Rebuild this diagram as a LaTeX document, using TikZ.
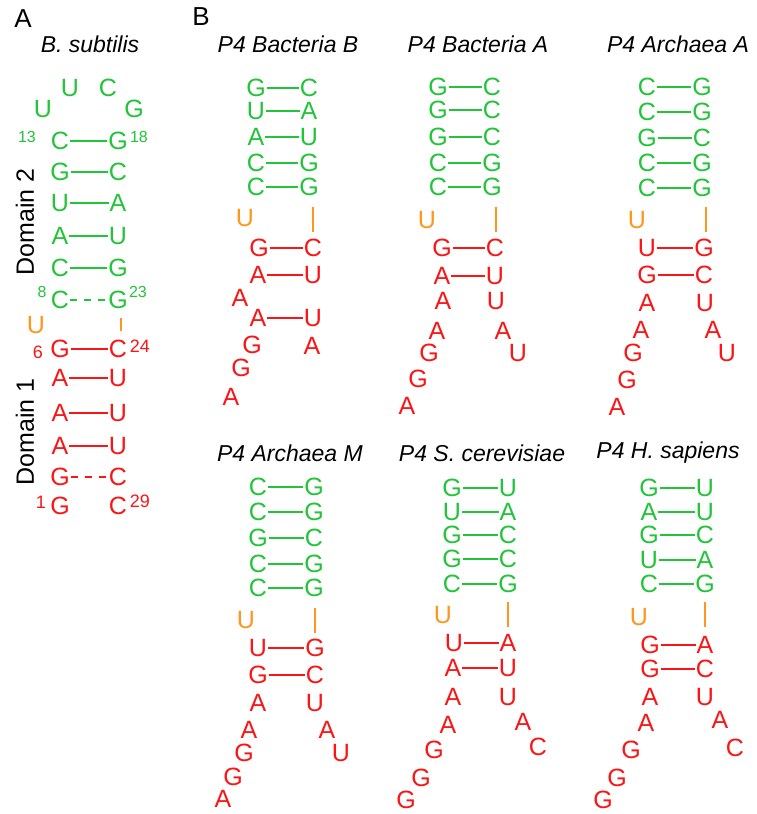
\documentclass[tikz,border=0pt]{standalone}
\usepackage{fontspec}
\setmainfont{Liberation Sans}
\definecolor{cgreen}{RGB}{34,197,58}
\definecolor{cred}{RGB}{250,22,22}
\definecolor{corange}{RGB}{255,150,30}
\newcommand{\nuc}[5]{\node[nuc,#1] (#2) at (#3,#4) {#5};}
\newcommand{\bnd}[3]{\draw[#1] (#2.east) -- (#3.west);}
\tikzset{
  nuc/.style={font=\fontsize{25}{25}\selectfont, inner sep=0.6pt, text height=17.9pt, text depth=0pt, anchor=center},
  gn/.style={text=cgreen},
  rd/.style={text=cred},
  og/.style={text=corange},
  gbA/.style={draw=cgreen, line width=2.2pt},
  rbA/.style={draw=cred, line width=2.2pt},
  gbB/.style={draw=cgreen, line width=1.8pt},
  rbB/.style={draw=cred, line width=1.8pt},
  obB/.style={draw=corange, line width=2pt},
  dsh/.style={dash pattern=on 7pt off 7pt},
  gnum/.style={font=\fontsize{16}{16}\selectfont, text=cgreen, inner sep=0pt},
  rnum/.style={font=\fontsize{18}{18}\selectfont, text=cred, inner sep=0pt},
  ttl/.style={font=\fontsize{23}{23}\selectfont\itshape, text=black, inner sep=0pt},
  panel/.style={font=\fontsize{26}{26}\selectfont, text=black, inner sep=0pt},
  dom/.style={font=\fontsize{25}{25}\selectfont, text=black, inner sep=0pt, rotate=90}
}
\begin{document}
\begin{tikzpicture}[x=1pt,y=-1pt]
\useasboundingbox (0,0) rectangle (756,814);
\fill[white] (0,0) rectangle (756,814);

% ---------- Panel A ----------
\node[panel] (labA) at (23,19) {A};
\node[panel] (labB) at (201,17) {B};
\node[ttl] (tA) at (90,44) {B. subtilis};
\node[dom] (dom2) at (25,222) {Domain 2};
\node[dom] (dom1) at (25,432) {Domain 1};

\nuc{gn}{aq1}{70}{88}{U}
\nuc{gn}{aq2}{108}{88}{C}
\nuc{gn}{aq3}{43}{109}{U}
\nuc{gn}{aq4}{134}{109}{G}

\nuc{gn}{aL1}{60}{141}{C} \nuc{gn}{aR1}{118}{141}{G}
\nuc{gn}{aL2}{60}{172}{G} \nuc{gn}{aR2}{118}{172}{C}
\nuc{gn}{aL3}{60}{203}{U} \nuc{gn}{aR3}{118}{203}{A}
\nuc{gn}{aL4}{60}{236}{A} \nuc{gn}{aR4}{118}{236}{U}
\nuc{gn}{aL5}{60}{268}{C} \nuc{gn}{aR5}{118}{268}{G}
\nuc{gn}{aL6}{60}{300}{C} \nuc{gn}{aR6}{118}{300}{G}
\nuc{og}{aO}{36}{325}{U}
\nuc{rd}{aL7}{60}{349}{G} \nuc{rd}{aR7}{118}{349}{C}
\nuc{rd}{aL8}{60}{378}{A} \nuc{rd}{aR8}{118}{378}{U}
\nuc{rd}{aL9}{60}{413}{A} \nuc{rd}{aR9}{118}{413}{U}
\nuc{rd}{aL10}{60}{446}{A} \nuc{rd}{aR10}{118}{446}{U}
\nuc{rd}{aL11}{60}{477}{G} \nuc{rd}{aR11}{118}{477}{C}
\nuc{rd}{aL12}{60}{506}{G} \nuc{rd}{aR12}{118}{506}{C}

\bnd{gbA}{aL1}{aR1}
\bnd{gbA}{aL2}{aR2}
\bnd{gbA}{aL3}{aR3}
\bnd{gbA}{aL4}{aR4}
\bnd{gbA}{aL5}{aR5}
\bnd{gbA,dsh}{aL6}{aR6}
\bnd{rbA}{aL7}{aR7}
\bnd{rbA}{aL8}{aR8}
\bnd{rbA}{aL9}{aR9}
\bnd{rbA}{aL10}{aR10}
\bnd{rbA,dsh}{aL11}{aR11}
\coordinate (aOt) at (121,318);
\coordinate (aOb) at (121,331);
\draw[obB] (aOt) -- (aOb);

\node[gnum] (n13) at (27,137) {13};
\node[gnum] (n18) at (139,137) {18};
\node[gnum] (n8) at (42,292) {8};
\node[gnum] (n23) at (138,292) {23};
\node[rnum] (n6) at (38,352) {6};
\node[rnum] (n24) at (140,346) {24};
\node[rnum] (n1) at (41,502) {1};
\node[rnum] (n29) at (140,501) {29};

% ---------- P4 Bacteria B ----------
\node[ttl] (tBB) at (288,44) {P4 Bacteria B};
\nuc{gn}{bbL1}{256}{88}{G} \nuc{gn}{bbR1}{309}{88}{C}
\nuc{gn}{bbL2}{256}{111}{U} \nuc{gn}{bbR2}{309}{111}{A}
\nuc{gn}{bbL3}{256}{137}{A} \nuc{gn}{bbR3}{309}{137}{U}
\nuc{gn}{bbL4}{256}{163}{C} \nuc{gn}{bbR4}{309}{163}{G}
\nuc{gn}{bbL5}{256}{187}{C} \nuc{gn}{bbR5}{309}{187}{G}
\nuc{og}{bbO}{245}{218}{U}
\nuc{rd}{bbL6}{259}{248}{G} \nuc{rd}{bbR6}{313}{248}{C}
\nuc{rd}{bbL7}{258}{275}{A} \nuc{rd}{bbR7}{313}{275}{U}
\nuc{rd}{bbX1}{240}{298}{A}
\nuc{rd}{bbL8}{258}{318}{A} \nuc{rd}{bbR8}{313}{318}{U}
\nuc{rd}{bbL9}{252}{345}{G} \nuc{rd}{bbR9}{312}{346}{A}
\nuc{rd}{bbX2}{241}{368}{G}
\nuc{rd}{bbX3}{231}{397}{A}
\bnd{gbB}{bbL1}{bbR1}
\bnd{gbB}{bbL2}{bbR2}
\bnd{gbB}{bbL3}{bbR3}
\bnd{gbB}{bbL4}{bbR4}
\bnd{gbB}{bbL5}{bbR5}
\bnd{rbB}{bbL6}{bbR6}
\bnd{rbB}{bbL7}{bbR7}
\bnd{rbB}{bbL8}{bbR8}
\coordinate (bbOt) at (313,207);
\coordinate (bbOb) at (313,232);
\draw[obB] (bbOt) -- (bbOb);

% ---------- P4 Bacteria A ----------
\node[ttl] (tBA) at (478,44) {P4 Bacteria A};
\nuc{gn}{baL1}{438}{87}{G} \nuc{gn}{baR1}{492}{87}{C}
\nuc{gn}{baL2}{438}{110}{G} \nuc{gn}{baR2}{492}{110}{C}
\nuc{gn}{baL3}{438}{137}{G} \nuc{gn}{baR3}{492}{137}{C}
\nuc{gn}{baL4}{438}{163}{C} \nuc{gn}{baR4}{492}{163}{G}
\nuc{gn}{baL5}{438}{187}{C} \nuc{gn}{baR5}{492}{187}{G}
\nuc{og}{baO}{427}{220}{U}
\nuc{rd}{baL6}{442}{248}{G} \nuc{rd}{baR6}{495}{248}{C}
\nuc{rd}{baL7}{442}{276}{A} \nuc{rd}{baR7}{495}{276}{U}
\nuc{rd}{baL8}{443}{301}{A} \nuc{rd}{baR8}{496}{301}{U}
\nuc{rd}{baL9}{437}{331}{A} \nuc{rd}{baR9}{503}{331}{A}
\nuc{rd}{baL10}{429}{353}{G} \nuc{rd}{baR10}{518}{353}{U}
\nuc{rd}{baX1}{418}{379}{G}
\nuc{rd}{baX2}{407}{406}{A}
\bnd{gbB}{baL1}{baR1}
\bnd{gbB}{baL2}{baR2}
\bnd{gbB}{baL3}{baR3}
\bnd{gbB}{baL4}{baR4}
\bnd{gbB}{baL5}{baR5}
\bnd{rbB}{baL6}{baR6}
\bnd{rbB}{baL7}{baR7}
\coordinate (baOt) at (496,207);
\coordinate (baOb) at (496,232);
\draw[obB] (baOt) -- (baOb);

% ---------- P4 Archaea A ----------
\node[ttl] (tAA) at (678,44) {P4 Archaea A};
\nuc{gn}{aaL1}{647}{87}{C} \nuc{gn}{aaR1}{702}{87}{G}
\nuc{gn}{aaL2}{647}{112}{C} \nuc{gn}{aaR2}{702}{112}{G}
\nuc{gn}{aaL3}{647}{138}{G} \nuc{gn}{aaR3}{702}{138}{C}
\nuc{gn}{aaL4}{647}{163}{C} \nuc{gn}{aaR4}{702}{163}{G}
\nuc{gn}{aaL5}{647}{188}{C} \nuc{gn}{aaR5}{702}{188}{G}
\nuc{og}{aaO}{637}{220}{U}
\nuc{rd}{aaL6}{647}{248}{U} \nuc{rd}{aaR6}{704}{248}{G}
\nuc{rd}{aaL7}{647}{275}{G} \nuc{rd}{aaR7}{704}{275}{C}
\nuc{rd}{aaL8}{647}{303}{A} \nuc{rd}{aaR8}{705}{303}{U}
\nuc{rd}{aaL9}{641}{330}{A} \nuc{rd}{aaR9}{713}{330}{A}
\nuc{rd}{aaL10}{633}{353}{G} \nuc{rd}{aaR10}{727}{353}{U}
\nuc{rd}{aaX1}{627}{380}{G}
\nuc{rd}{aaX2}{617}{407}{A}
\bnd{gbB}{aaL1}{aaR1}
\bnd{gbB}{aaL2}{aaR2}
\bnd{gbB}{aaL3}{aaR3}
\bnd{gbB}{aaL4}{aaR4}
\bnd{gbB}{aaL5}{aaR5}
\bnd{rbB}{aaL6}{aaR6}
\bnd{rbB}{aaL7}{aaR7}
\coordinate (aaOt) at (706,207);
\coordinate (aaOb) at (706,232);
\draw[obB] (aaOt) -- (aaOb);

% ---------- P4 Archaea M ----------
\node[ttl] (tAM) at (290,453) {P4 Archaea M};
\nuc{gn}{amL1}{258}{487}{C} \nuc{gn}{amR1}{314}{487}{G}
\nuc{gn}{amL2}{258}{512}{C} \nuc{gn}{amR2}{314}{512}{G}
\nuc{gn}{amL3}{258}{538}{G} \nuc{gn}{amR3}{314}{538}{C}
\nuc{gn}{amL4}{258}{564}{C} \nuc{gn}{amR4}{314}{564}{G}
\nuc{gn}{amL5}{258}{588}{C} \nuc{gn}{amR5}{314}{588}{G}
\nuc{og}{amO}{246}{620}{U}
\nuc{rd}{amL6}{258}{648}{U} \nuc{rd}{amR6}{315}{648}{G}
\nuc{rd}{amL7}{258}{675}{G} \nuc{rd}{amR7}{315}{675}{C}
\nuc{rd}{amL8}{258}{703}{A} \nuc{rd}{amR8}{315}{703}{U}
\nuc{rd}{amL9}{249}{730}{A} \nuc{rd}{amR9}{327}{730}{A}
\nuc{rd}{amL10}{244}{753}{G} \nuc{rd}{amR10}{341}{753}{U}
\nuc{rd}{amX1}{233}{777}{G}
\nuc{rd}{amX2}{223}{799}{A}
\bnd{gbB}{amL1}{amR1}
\bnd{gbB}{amL2}{amR2}
\bnd{gbB}{amL3}{amR3}
\bnd{gbB}{amL4}{amR4}
\bnd{gbB}{amL5}{amR5}
\bnd{rbB}{amL6}{amR6}
\bnd{rbB}{amL7}{amR7}
\coordinate (amOt) at (315,608);
\coordinate (amOb) at (315,633);
\draw[obB] (amOt) -- (amOb);

% ---------- P4 S. cerevisiae ----------
\node[ttl] (tSC) at (482,453) {P4 S. cerevisiae};
\nuc{gn}{scL1}{452}{488}{G} \nuc{gn}{scR1}{508}{488}{U}
\nuc{gn}{scL2}{452}{512}{U} \nuc{gn}{scR2}{508}{512}{A}
\nuc{gn}{scL3}{452}{535}{G} \nuc{gn}{scR3}{508}{535}{C}
\nuc{gn}{scL4}{452}{559}{G} \nuc{gn}{scR4}{508}{559}{C}
\nuc{gn}{scL5}{452}{584}{C} \nuc{gn}{scR5}{508}{584}{G}
\nuc{og}{scO}{443}{615}{U}
\nuc{rd}{scL6}{454}{643}{U} \nuc{rd}{scR6}{508}{643}{A}
\nuc{rd}{scL7}{453}{668}{A} \nuc{rd}{scR7}{508}{668}{U}
\nuc{rd}{scL8}{453}{697}{A} \nuc{rd}{scR8}{508}{697}{U}
\nuc{rd}{scL9}{448}{725}{A} \nuc{rd}{scR9}{523}{722}{A}
\nuc{rd}{scL10}{434}{750}{G} \nuc{rd}{scR10}{538}{747}{C}
\nuc{rd}{scX1}{421}{778}{G}
\nuc{rd}{scX2}{406}{800}{G}
\bnd{gbB}{scL1}{scR1}
\bnd{gbB}{scL2}{scR2}
\bnd{gbB}{scL3}{scR3}
\bnd{gbB}{scL4}{scR4}
\bnd{gbB}{scL5}{scR5}
\bnd{rbB}{scL6}{scR6}
\bnd{rbB}{scL7}{scR7}
\coordinate (scOt) at (508,602);
\coordinate (scOb) at (508,627);
\draw[obB] (scOt) -- (scOb);

% ---------- P4 H. sapiens ----------
\node[ttl] (tHS) at (668,453) {P4 H. sapiens};
\nuc{gn}{hsL1}{649}{488}{G} \nuc{gn}{hsR1}{705}{488}{U}
\nuc{gn}{hsL2}{649}{512}{A} \nuc{gn}{hsR2}{705}{512}{U}
\nuc{gn}{hsL3}{649}{535}{G} \nuc{gn}{hsR3}{705}{535}{C}
\nuc{gn}{hsL4}{649}{560}{U} \nuc{gn}{hsR4}{705}{560}{A}
\nuc{gn}{hsL5}{649}{584}{C} \nuc{gn}{hsR5}{705}{584}{G}
\nuc{og}{hsO}{639}{617}{U}
\nuc{rd}{hsL6}{650}{645}{G} \nuc{rd}{hsR6}{705}{645}{A}
\nuc{rd}{hsL7}{650}{669}{G} \nuc{rd}{hsR7}{705}{669}{C}
\nuc{rd}{hsL8}{650}{697}{A} \nuc{rd}{hsR8}{705}{697}{U}
\nuc{rd}{hsL9}{646}{723}{A} \nuc{rd}{hsR9}{720}{720}{A}
\nuc{rd}{hsL10}{631}{750}{G} \nuc{rd}{hsR10}{735}{748}{C}
\nuc{rd}{hsX1}{617}{778}{G}
\nuc{rd}{hsX2}{603}{800}{G}
\bnd{gbB}{hsL1}{hsR1}
\bnd{gbB}{hsL2}{hsR2}
\bnd{gbB}{hsL3}{hsR3}
\bnd{gbB}{hsL4}{hsR4}
\bnd{gbB}{hsL5}{hsR5}
\bnd{rbB}{hsL6}{hsR6}
\bnd{rbB}{hsL7}{hsR7}
\coordinate (hsOt) at (705,602);
\coordinate (hsOb) at (705,627);
\draw[obB] (hsOt) -- (hsOb);
\end{tikzpicture}
\end{document}
